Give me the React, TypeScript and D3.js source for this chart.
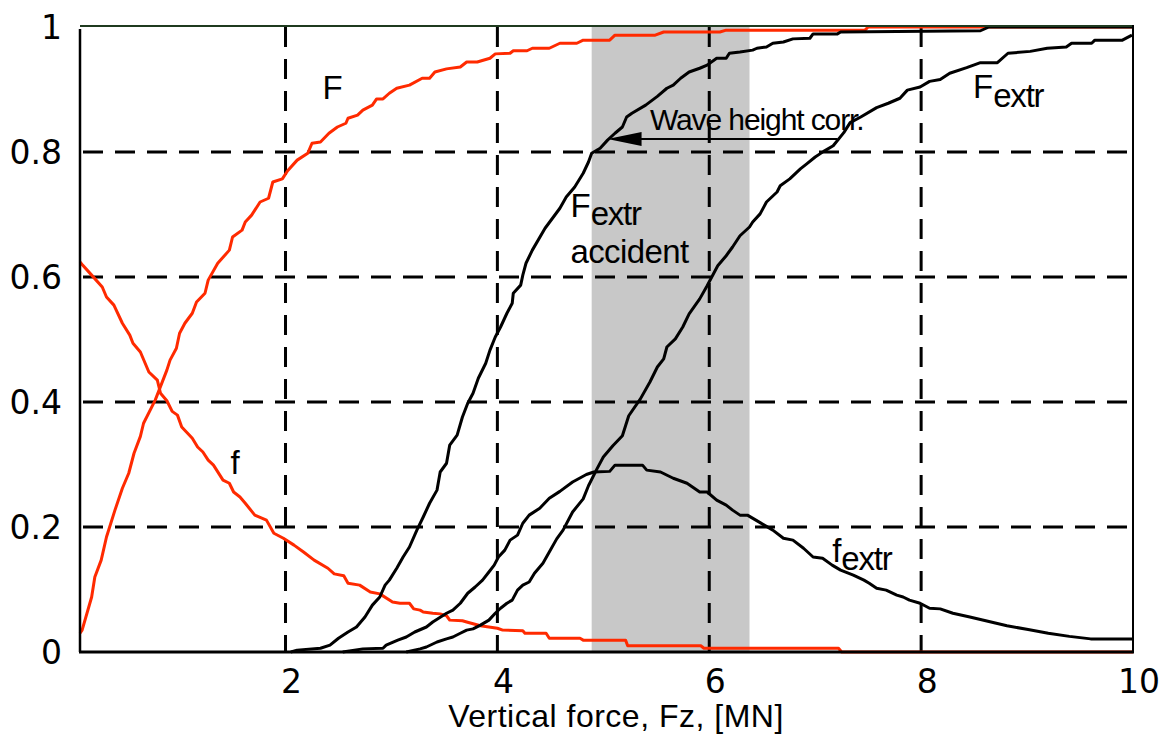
import React from "react";
import * as d3 from "d3";

type Pt = [number, number];

// Axis domains and ticks
const xDomain: [number, number] = [0.06, 10];
const yDomain: [number, number] = [0, 1];
const xTicks = [2, 4, 6, 8, 10];
const yTicks = [0, 0.2, 0.4, 0.6, 0.8, 1];
const yTickLabels = ["0", "0.2", "0.4", "0.6", "0.8", "1"];
const xGrid = [2, 4, 6, 8];
const yGrid = [0.2, 0.4, 0.6, 0.8];

// Shaded force band
const bandRange: [number, number] = [4.89, 6.38];

// Cumulative distribution F (red)
const cdfF: Pt[] = [
  [0.06, 0.03], [0.08, 0.035], [0.17, 0.088], [0.2, 0.12], [0.26, 0.147], [0.31, 0.184], [0.39, 0.227],
  [0.46, 0.262], [0.52, 0.286], [0.57, 0.318], [0.63, 0.345], [0.66, 0.366], [0.77, 0.403], [0.88, 0.451],
  [0.91, 0.467], [0.97, 0.486], [1.0, 0.51], [1.05, 0.526], [1.12, 0.542], [1.16, 0.56], [1.24, 0.574],
  [1.27, 0.595], [1.36, 0.622], [1.47, 0.643], [1.5, 0.664], [1.59, 0.675], [1.62, 0.688], [1.68, 0.699],
  [1.76, 0.72], [1.84, 0.726], [1.88, 0.752], [1.97, 0.757], [2.02, 0.77], [2.11, 0.787], [2.21, 0.798],
  [2.25, 0.814], [2.33, 0.816], [2.41, 0.83], [2.49, 0.84], [2.57, 0.846], [2.59, 0.854], [2.68, 0.859],
  [2.73, 0.867], [2.82, 0.875], [2.86, 0.885], [2.92, 0.885], [2.98, 0.894], [3.05, 0.902], [3.17, 0.907],
  [3.29, 0.918], [3.36, 0.918], [3.41, 0.928], [3.52, 0.933], [3.65, 0.936], [3.71, 0.944], [3.81, 0.944],
  [3.93, 0.95], [3.98, 0.957], [4.12, 0.958], [4.15, 0.962], [4.28, 0.962], [4.33, 0.966], [4.49, 0.966],
  [4.59, 0.974], [4.75, 0.974], [4.81, 0.979], [5.06, 0.979], [5.11, 0.987], [5.49, 0.987], [5.57, 0.992],
  [6.1, 0.992], [6.16, 0.995], [7.47, 0.995], [7.5, 1.0], [10, 1.0],
];

// Density f (red)
const pdfF: Pt[] = [
  [0.06, 0.624], [0.08, 0.62], [0.17, 0.603], [0.27, 0.584], [0.31, 0.568], [0.38, 0.555], [0.46, 0.526],
  [0.53, 0.507], [0.56, 0.494], [0.63, 0.48], [0.71, 0.448], [0.79, 0.435], [0.82, 0.414], [0.88, 0.402],
  [0.93, 0.385], [0.98, 0.379], [1.02, 0.36], [1.12, 0.342], [1.17, 0.328], [1.22, 0.32], [1.27, 0.307],
  [1.32, 0.299], [1.41, 0.275], [1.47, 0.27], [1.51, 0.256], [1.57, 0.248], [1.62, 0.238], [1.71, 0.219],
  [1.82, 0.211], [1.89, 0.19], [1.98, 0.182], [2.08, 0.171], [2.17, 0.16], [2.27, 0.147], [2.4, 0.134],
  [2.46, 0.125], [2.55, 0.122], [2.59, 0.11], [2.7, 0.107], [2.8, 0.096], [2.89, 0.093], [3.01, 0.08],
  [3.08, 0.078], [3.17, 0.078], [3.21, 0.069], [3.27, 0.067], [3.3, 0.064], [3.39, 0.062], [3.46, 0.061],
  [3.52, 0.058], [3.55, 0.051], [3.67, 0.05], [3.71, 0.048], [3.84, 0.042], [4.0, 0.038], [4.05, 0.035],
  [4.24, 0.034], [4.26, 0.03], [4.46, 0.03], [4.49, 0.022], [4.78, 0.022], [4.81, 0.019], [5.21, 0.019],
  [5.23, 0.01], [5.92, 0.01], [5.95, 0.006], [7.22, 0.006], [7.25, 0], [10, 0],
];

// Extreme-value distribution, accident case (black)
const cdfExtrAccident: Pt[] = [
  [2.05, 0], [2.11, 0.003], [2.33, 0.006], [2.42, 0.011], [2.5, 0.022], [2.59, 0.032], [2.67, 0.04],
  [2.75, 0.056], [2.82, 0.075], [2.89, 0.088], [2.94, 0.107], [2.98, 0.115], [3.05, 0.134], [3.11, 0.152],
  [3.17, 0.168], [3.24, 0.195], [3.3, 0.216], [3.36, 0.238], [3.43, 0.259], [3.46, 0.288], [3.52, 0.302],
  [3.55, 0.331], [3.62, 0.347], [3.67, 0.376], [3.72, 0.398], [3.77, 0.414], [3.82, 0.438], [3.89, 0.462],
  [3.93, 0.483], [3.98, 0.504], [4.03, 0.52], [4.09, 0.542], [4.14, 0.558], [4.15, 0.574], [4.22, 0.587],
  [4.24, 0.603], [4.27, 0.622], [4.33, 0.643], [4.45, 0.678], [4.59, 0.71], [4.65, 0.728], [4.73, 0.744],
  [4.81, 0.766], [4.86, 0.784], [4.89, 0.798], [4.97, 0.806], [5.04, 0.819], [5.11, 0.83], [5.18, 0.84],
  [5.22, 0.856], [5.27, 0.862], [5.4, 0.875], [5.51, 0.889], [5.6, 0.902], [5.66, 0.907], [5.73, 0.918],
  [5.81, 0.928], [5.91, 0.934], [5.98, 0.939], [6.07, 0.95], [6.16, 0.95], [6.19, 0.958], [6.29, 0.96],
  [6.41, 0.963], [6.45, 0.966], [6.54, 0.968], [6.6, 0.974], [6.7, 0.976], [6.79, 0.981], [6.95, 0.982],
  [6.98, 0.989], [7.21, 0.989], [7.24, 0.992], [8.56, 0.994], [8.64, 1.0], [10, 1.0],
];

// Extreme-value density (black)
const pdfExtr: Pt[] = [
  [2.54, 0], [2.73, 0.005], [2.92, 0.006], [2.95, 0.011], [3.06, 0.019], [3.14, 0.024], [3.22, 0.032],
  [3.33, 0.04], [3.39, 0.048], [3.52, 0.062], [3.58, 0.067], [3.65, 0.078], [3.72, 0.094], [3.79, 0.104],
  [3.86, 0.115], [3.92, 0.128], [3.97, 0.139], [4.01, 0.152], [4.07, 0.163], [4.12, 0.179], [4.19, 0.187],
  [4.24, 0.206], [4.3, 0.219], [4.4, 0.23], [4.49, 0.246], [4.59, 0.257], [4.71, 0.272], [4.84, 0.284],
  [4.91, 0.288], [5.06, 0.289], [5.11, 0.299], [5.37, 0.299], [5.41, 0.291], [5.54, 0.288], [5.66, 0.278],
  [5.79, 0.27], [5.91, 0.256], [5.98, 0.256], [6.07, 0.243], [6.16, 0.235], [6.22, 0.227], [6.29, 0.219],
  [6.36, 0.219], [6.48, 0.207], [6.6, 0.195], [6.7, 0.182], [6.79, 0.179], [6.89, 0.166], [6.98, 0.152],
  [7.07, 0.15], [7.16, 0.139], [7.24, 0.131], [7.36, 0.123], [7.46, 0.115], [7.51, 0.11], [7.58, 0.102],
  [7.67, 0.099], [7.77, 0.091], [7.83, 0.088], [7.89, 0.083], [7.99, 0.078], [8.08, 0.07], [8.18, 0.069],
  [8.3, 0.062], [8.46, 0.056], [8.61, 0.05], [8.81, 0.042], [9.01, 0.036], [9.2, 0.03], [9.4, 0.025],
  [9.6, 0.021], [10, 0.021],
];

// Extreme-value distribution (black)
const cdfExtr: Pt[] = [
  [3.14, 0], [3.27, 0.005], [3.33, 0.008], [3.43, 0.016], [3.52, 0.021], [3.58, 0.024], [3.65, 0.03],
  [3.71, 0.035], [3.77, 0.037], [3.84, 0.043], [3.92, 0.051], [3.98, 0.062], [4.03, 0.07], [4.09, 0.078],
  [4.14, 0.083], [4.19, 0.099], [4.24, 0.107], [4.3, 0.112], [4.35, 0.126], [4.43, 0.142], [4.49, 0.16],
  [4.56, 0.181], [4.62, 0.195], [4.71, 0.224], [4.81, 0.245], [4.86, 0.266], [4.94, 0.293], [5.0, 0.312],
  [5.09, 0.33], [5.18, 0.346], [5.21, 0.362], [5.24, 0.378], [5.35, 0.405], [5.44, 0.432], [5.51, 0.456],
  [5.57, 0.469], [5.6, 0.488], [5.68, 0.501], [5.75, 0.52], [5.81, 0.541], [5.91, 0.565], [5.98, 0.586],
  [6.03, 0.602], [6.08, 0.618], [6.16, 0.634], [6.22, 0.648], [6.29, 0.666], [6.38, 0.68], [6.41, 0.688],
  [6.48, 0.701], [6.54, 0.72], [6.64, 0.736], [6.67, 0.746], [6.76, 0.757], [6.86, 0.773], [6.92, 0.781],
  [7.0, 0.792], [7.08, 0.801], [7.17, 0.81], [7.27, 0.831], [7.33, 0.847], [7.43, 0.856], [7.58, 0.871],
  [7.69, 0.878], [7.8, 0.886], [7.87, 0.899], [7.99, 0.904], [8.08, 0.913], [8.18, 0.916], [8.27, 0.926],
  [8.43, 0.935], [8.56, 0.943], [8.72, 0.943], [8.82, 0.958], [9.03, 0.961], [9.19, 0.966], [9.37, 0.968],
  [9.42, 0.974], [9.61, 0.974], [9.64, 0.979], [9.9, 0.979], [9.99, 0.987],
];

// Wave height correction arrow: from -> to (force, probability)
const arrowFrom: Pt = [7.21, 0.821];
const arrowTo: Pt = [5.04, 0.821];

const RED = "#ff2a00";
const W = 1170;
const H = 735;

export default function App() {
  const x = d3.scaleLinear().domain(xDomain).range([80, 1133]);
  const y = d3.scaleLinear().domain(yDomain).range([652, 27]);
  const line = d3
    .line<Pt>()
    .x((d) => x(d[0]))
    .y((d) => y(d[1]));

  const tickFont = "'DejaVu Sans', Verdana, sans-serif";
  const labelFont = "'Liberation Sans', Arial, Helvetica, sans-serif";

  const x0 = x(xDomain[0]);
  const x1 = x(xDomain[1]);
  const ax0 = x(arrowFrom[0]);
  const ay = y(arrowFrom[1]);
  const tip = x(arrowTo[0]);

  return (
    <svg
      width={W}
      height={H}
      style={{ position: "absolute", left: 0, top: 0, background: "#fff" }}
    >
      {/* shaded band */}
      <rect
        x={x(bandRange[0])}
        y={y(1)}
        width={x(bandRange[1]) - x(bandRange[0])}
        height={y(0) - y(1)}
        fill="#c8c8c8"
      />

      {/* dashed grid */}
      <g stroke="#000" strokeWidth={3} strokeDasharray="20 12">
        {xGrid.map((v) => (
          <line key={"gx" + v} x1={x(v)} x2={x(v)} y1={y(1)} y2={y(0)} />
        ))}
        {yGrid.map((v) => (
          <line key={"gy" + v} x1={x0 + 3} x2={x1} y1={y(v)} y2={y(v)} />
        ))}
      </g>

      {/* curves */}
      <g fill="none" strokeWidth={3} strokeLinejoin="round">
        <path d={line(pdfF) || ""} stroke={RED} />
        <path d={line(cdfF) || ""} stroke={RED} />
        <path d={line(cdfExtrAccident) || ""} stroke="#000" />
        <path d={line(pdfExtr) || ""} stroke="#000" />
        <path d={line(cdfExtr) || ""} stroke="#000" />
      </g>

      {/* frame */}
      <line x1={x0} x2={x1} y1={y(1) - 1} y2={y(1) - 1} stroke="#1f3a1f" strokeWidth={2} />
      <line x1={x1} x2={x1} y1={y(1) - 2} y2={y(0)} stroke="#000" strokeWidth={2} />
      <line x1={x0} x2={x0} y1={y(1) + 2} y2={y(0)} stroke="#000" strokeWidth={2.5} />
      <line x1={x0 - 1} x2={x1 + 1} y1={y(0)} y2={y(0)} stroke="#000" strokeWidth={3} />

      {/* y tick labels */}
      <g fontFamily={tickFont} fontSize={33} fill="#000" textAnchor="end">
        {yTicks.map((v, i) => (
          <text key={"yt" + v} x={x0 - 18} y={y(v)} dy="0.36em">
            {yTickLabels[i]}
          </text>
        ))}
      </g>

      {/* x tick labels */}
      <g fontFamily={tickFont} fontSize={33} fill="#000" textAnchor="middle">
        {xTicks.map((v) => (
          <text key={"xt" + v} x={x(v) + 6} y={693}>
            {v}
          </text>
        ))}
      </g>

      {/* axis title */}
      <text
        x={616}
        y={727}
        textAnchor="middle"
        fontFamily={labelFont}
        fontSize={32}
        letterSpacing={0.5}
        fill="#000"
      >
        Vertical force, Fz, [MN]
      </text>

      {/* curve labels */}
      <g fontFamily={labelFont} fill="#000" fontSize={33}>
        <text x={x(2.35)} y={y(0.885)}>F</text>
        <text x={x(1.48)} y={y(0.285)}>f</text>
        <text x={x(8.49)} y={y(0.886)}>
          F<tspan dy={9} letterSpacing={-1.2}>extr</tspan>
        </text>
        <text x={x(4.69)} y={y(0.696)}>
          F<tspan dy={8} letterSpacing={-1.2}>extr</tspan>
        </text>
        <text x={x(4.69)} y={y(0.622)} letterSpacing={-0.6}>accident</text>
        <text x={x(7.16)} y={y(0.144)}>
          f<tspan dy={8} letterSpacing={-1.2}>extr</tspan>
        </text>
        <text x={x(5.44)} y={y(0.835)} fontSize={30} letterSpacing={-1.1}>
          Wave height corr.
        </text>
      </g>

      {/* arrow */}
      <line x1={ax0} x2={tip + 30} y1={ay} y2={ay} stroke="#000" strokeWidth={2} />
      <path d={`M${tip},${ay} L${tip + 34},${ay - 7} L${tip + 34},${ay + 7} Z`} fill="#000" />
    </svg>
  );
}
